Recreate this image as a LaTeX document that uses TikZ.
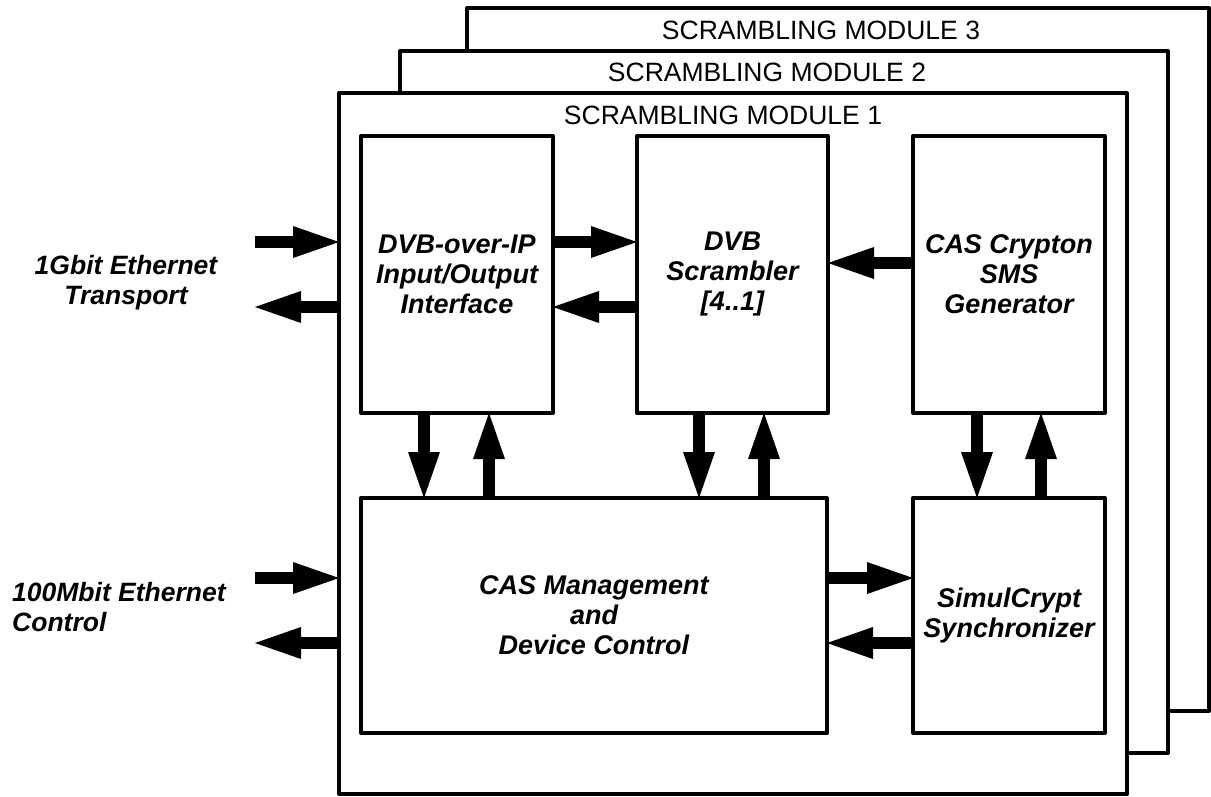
\documentclass[tikz,border=0pt]{standalone}
\usepackage{fontspec}
\setmainfont{Liberation Sans}
\usetikzlibrary{arrows.meta}
\begin{document}
\begin{tikzpicture}[x=1pt,y=-1pt,
  module/.style={draw, fill=white, line width=4pt, inner sep=0pt, outer sep=0pt, line join=round},
  blk/.style={draw, fill=white, line width=4pt, inner sep=0pt, outer sep=0pt, line join=round, align=center,
    font=\fontsize{27}{30}\selectfont\bfseries\itshape},
  title/.style={font=\fontsize{26.5}{29}\selectfont, inner sep=0pt},
  lbl/.style={font=\fontsize{26.5}{30}\selectfont\bfseries\itshape, inner sep=0pt},
  arr/.style={line width=12pt, -{Triangle[length=46pt,width=32pt,line width=0pt]}}]
\useasboundingbox (0,0) rectangle (1211,796);
\fill[white] (0,0) rectangle (1211,796);
% module frames
\node[module, minimum width=742pt, minimum height=703pt] (M3) at (838,359.5) {};
\node[title] (t3) at (821,30) {SCRAMBLING MODULE 3};
\node[module, minimum width=768pt, minimum height=702pt] (M2) at (784,402) {};
\node[title] (t2) at (767,72) {SCRAMBLING MODULE 2};
\node[module, minimum width=788pt, minimum height=701pt] (M1) at (733,443.5) {};
\node[title] (t1) at (723,115) {SCRAMBLING MODULE 1};
% blocks
\node[blk, minimum width=192pt, minimum height=277pt] (A) at (457,274.5) {DVB-over-IP\\Input/Output\\Interface};
\node[blk, minimum width=191pt, minimum height=277pt] (B) at (732.5,274.5) {DVB\\Scrambler\\{[4..1]}};
\node[blk, minimum width=192pt, minimum height=277pt] (C) at (1009,274.5) {CAS Crypton\\SMS\\Generator};
\node[blk, minimum width=466pt, minimum height=235pt] (D) at (594,615.5) {CAS Management\\and\\Device Control};
\node[blk, minimum width=192pt, minimum height=235pt] (E) at (1009,615.5) {SimulCrypt\\Synchronizer};
% external labels
\node[lbl, align=center] (L1) at (126,283) {1Gbit Ethernet\\Transport};
\node[lbl, align=left, anchor=west] (L2) at (12,607) {100Mbit Ethernet\\Control};
% reference levels
\coordinate (gin) at (255,242);
\coordinate (gout) at (255,307);
\coordinate (cin) at (255,578);
\coordinate (cout) at (255,643);
\coordinate (ycb) at (0,263);
\coordinate (xa1) at (424,0);
\coordinate (xa2) at (489,0);
\coordinate (xb1) at (699,0);
\coordinate (xb2) at (764,0);
\coordinate (xc1) at (977,0);
\coordinate (xc2) at (1041,0);
% arrows
\draw[arr] (gin) -- (gin -| M1.west);
\draw[arr] (gout -| M1.west) -- (gout);
\draw[arr] (cin) -- (cin -| M1.west);
\draw[arr] (cout -| M1.west) -- (cout);
\draw[arr] (A.east |- gin) -- (B.west |- gin);
\draw[arr] (B.west |- gout) -- (A.east |- gout);
\draw[arr] (C.west |- ycb) -- (B.east |- ycb);
\draw[arr] (D.east |- cin) -- (E.west |- cin);
\draw[arr] (E.west |- cout) -- (D.east |- cout);
\draw[arr] (A.south -| xa1) -- (D.north -| xa1);
\draw[arr] (D.north -| xa2) -- (A.south -| xa2);
\draw[arr] (B.south -| xb1) -- (D.north -| xb1);
\draw[arr] (D.north -| xb2) -- (B.south -| xb2);
\draw[arr] (C.south -| xc1) -- (E.north -| xc1);
\draw[arr] (E.north -| xc2) -- (C.south -| xc2);
\end{tikzpicture}
\end{document}
